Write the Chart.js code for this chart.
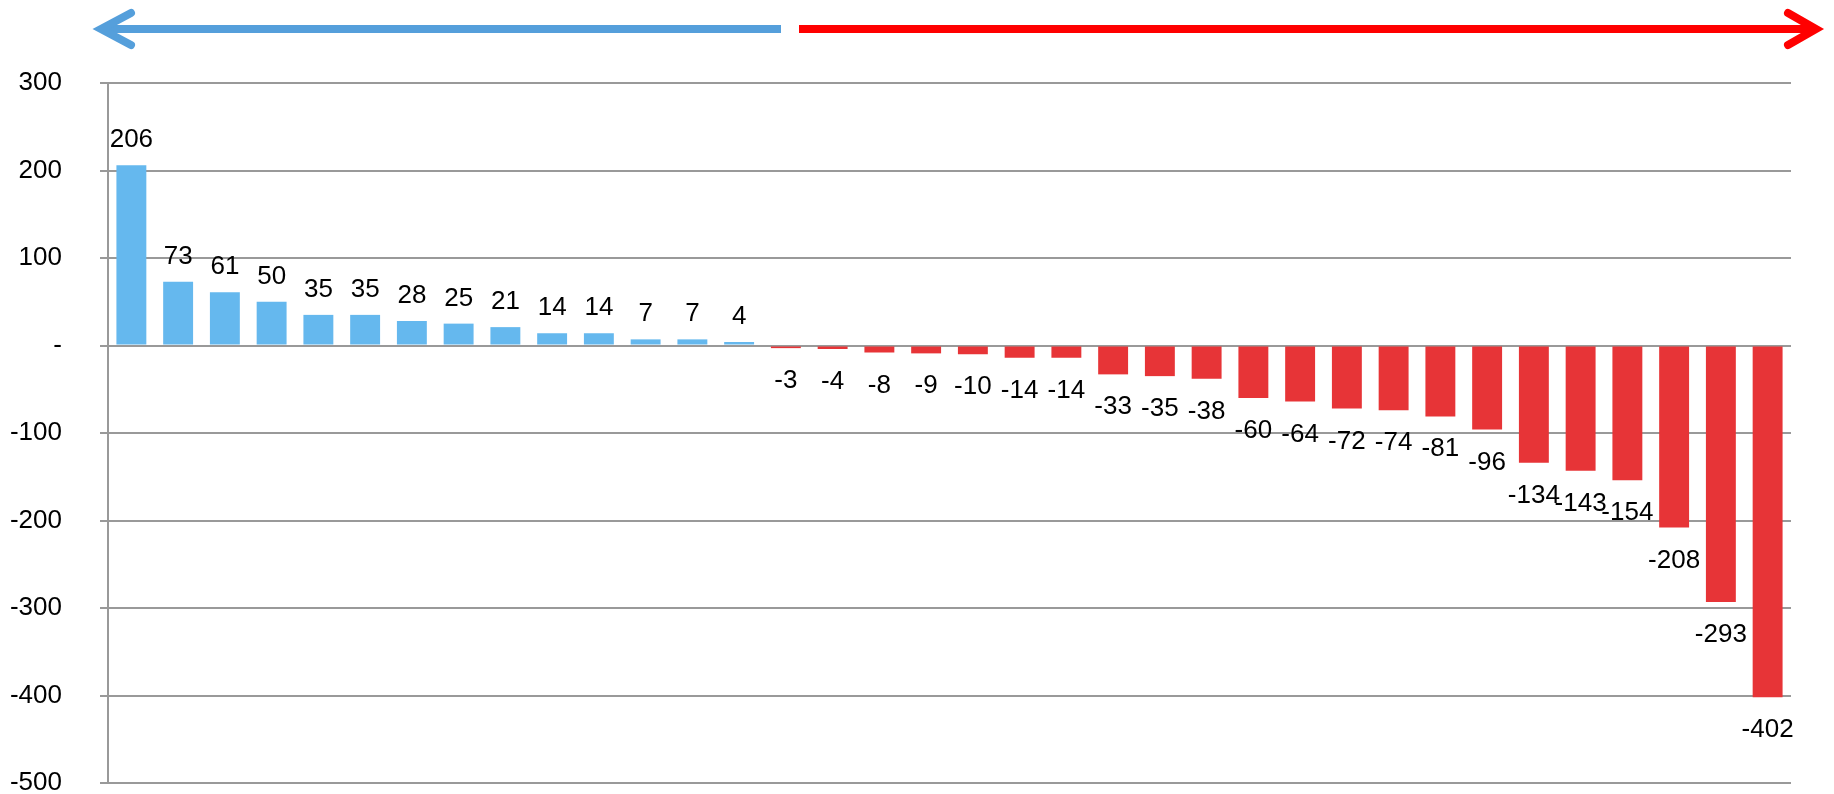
<!DOCTYPE html>
<html>
<head>
<meta charset="utf-8">
<script src="https://cdn.jsdelivr.net/npm/chart.js@4"></script>
<style>
  html, body { margin: 0; padding: 0; background: #fff; overflow: hidden; }
  canvas { display: block; }
</style>
</head>
<body>
<canvas id="chart" width="1834" height="794"></canvas>
<script>
// values, left to right
const values = [206, 73, 61, 50, 35, 35, 28, 25, 21, 14, 14, 7, 7, 4,
  -3, -4, -8, -9, -10, -14, -14, -33, -35, -38, -60, -64, -72, -74, -81, -96,
  -134, -143, -154, -208, -293, -402];
const categories = values.map((v, i) => String(i + 1));
const yTicks = [300, 200, 100, 0, -100, -200, -300, -400, -500];

const BLUE = "#65b8ee";
const RED = "#e73437";
const FONT = "'Liberation Sans', Arial, sans-serif";

// labels above / below each bar
const barLabels = {
  id: "barLabels",
  afterDatasetsDraw(chart) {
    const { ctx } = chart;
    const meta = chart.getDatasetMeta(0);
    ctx.save();
    ctx.font = "26px " + FONT;
    ctx.fillStyle = "#000";
    ctx.textAlign = "center";
    ctx.textBaseline = "alphabetic";
    meta.data.forEach((bar, i) => {
      const v = values[i];
      if (v >= 0) {
        ctx.fillText(String(v), bar.x, bar.y - 18);
      } else {
        ctx.fillText(String(v), bar.x, bar.y + 40);
      }
    });
    ctx.restore();
  }
};

// the two arrows at the top
const arrows = {
  id: "arrows",
  afterDraw(chart) {
    const { ctx } = chart;
    const y = 29;
    ctx.save();
    ctx.lineWidth = 8;
    // blue one, pointing left
    ctx.strokeStyle = "#559fdb";
    ctx.lineCap = "butt";
    ctx.beginPath();
    ctx.moveTo(781, y);
    ctx.lineTo(102, y);
    ctx.stroke();
    ctx.lineCap = "round";
    ctx.beginPath();
    ctx.moveTo(131, y - 16);
    ctx.lineTo(101, y);
    ctx.lineTo(131, y + 16);
    ctx.stroke();
    // red one, pointing right
    ctx.strokeStyle = "#ff0000";
    ctx.lineCap = "butt";
    ctx.beginPath();
    ctx.moveTo(799, y);
    ctx.lineTo(1814, y);
    ctx.stroke();
    ctx.lineCap = "round";
    ctx.beginPath();
    ctx.moveTo(1788, y - 16);
    ctx.lineTo(1816, y);
    ctx.lineTo(1788, y + 16);
    ctx.stroke();
    ctx.restore();
  }
};

new Chart(document.getElementById("chart"), {
  type: "bar",
  data: {
    labels: categories,
    datasets: [{
      data: values,
      backgroundColor: values.map(v => v >= 0 ? BLUE : RED),
      borderWidth: 0,
      categoryPercentage: 1,
      barPercentage: 0.64
    }]
  },
  options: {
    responsive: false,
    animation: false,
    devicePixelRatio: 1,
    layout: { padding: { top: 83, right: 43, bottom: 11, left: 0 } },
    plugins: { legend: { display: false }, tooltip: { enabled: false } },
    scales: {
      x: { display: false },
      y: {
        min: -500,
        max: 300,
        afterBuildTicks(scale) {
          scale.ticks = yTicks.map(v => ({ value: v }));
        },
        afterFit(scale) {
          scale.width = 108;
          scale.paddingTop = 0;
          scale.paddingBottom = 0;
        },
        ticks: {
          padding: 38,
          color: "#000",
          font: { family: FONT, size: 26 },
          callback: v => v === 0 ? "-" : String(v)
        },
        grid: { color: "#999", lineWidth: 2, tickLength: 8, drawTicks: true },
        border: { display: true, color: "#999", width: 2 }
      }
    }
  },
  plugins: [barLabels, arrows]
});
</script>
</body>
</html>
